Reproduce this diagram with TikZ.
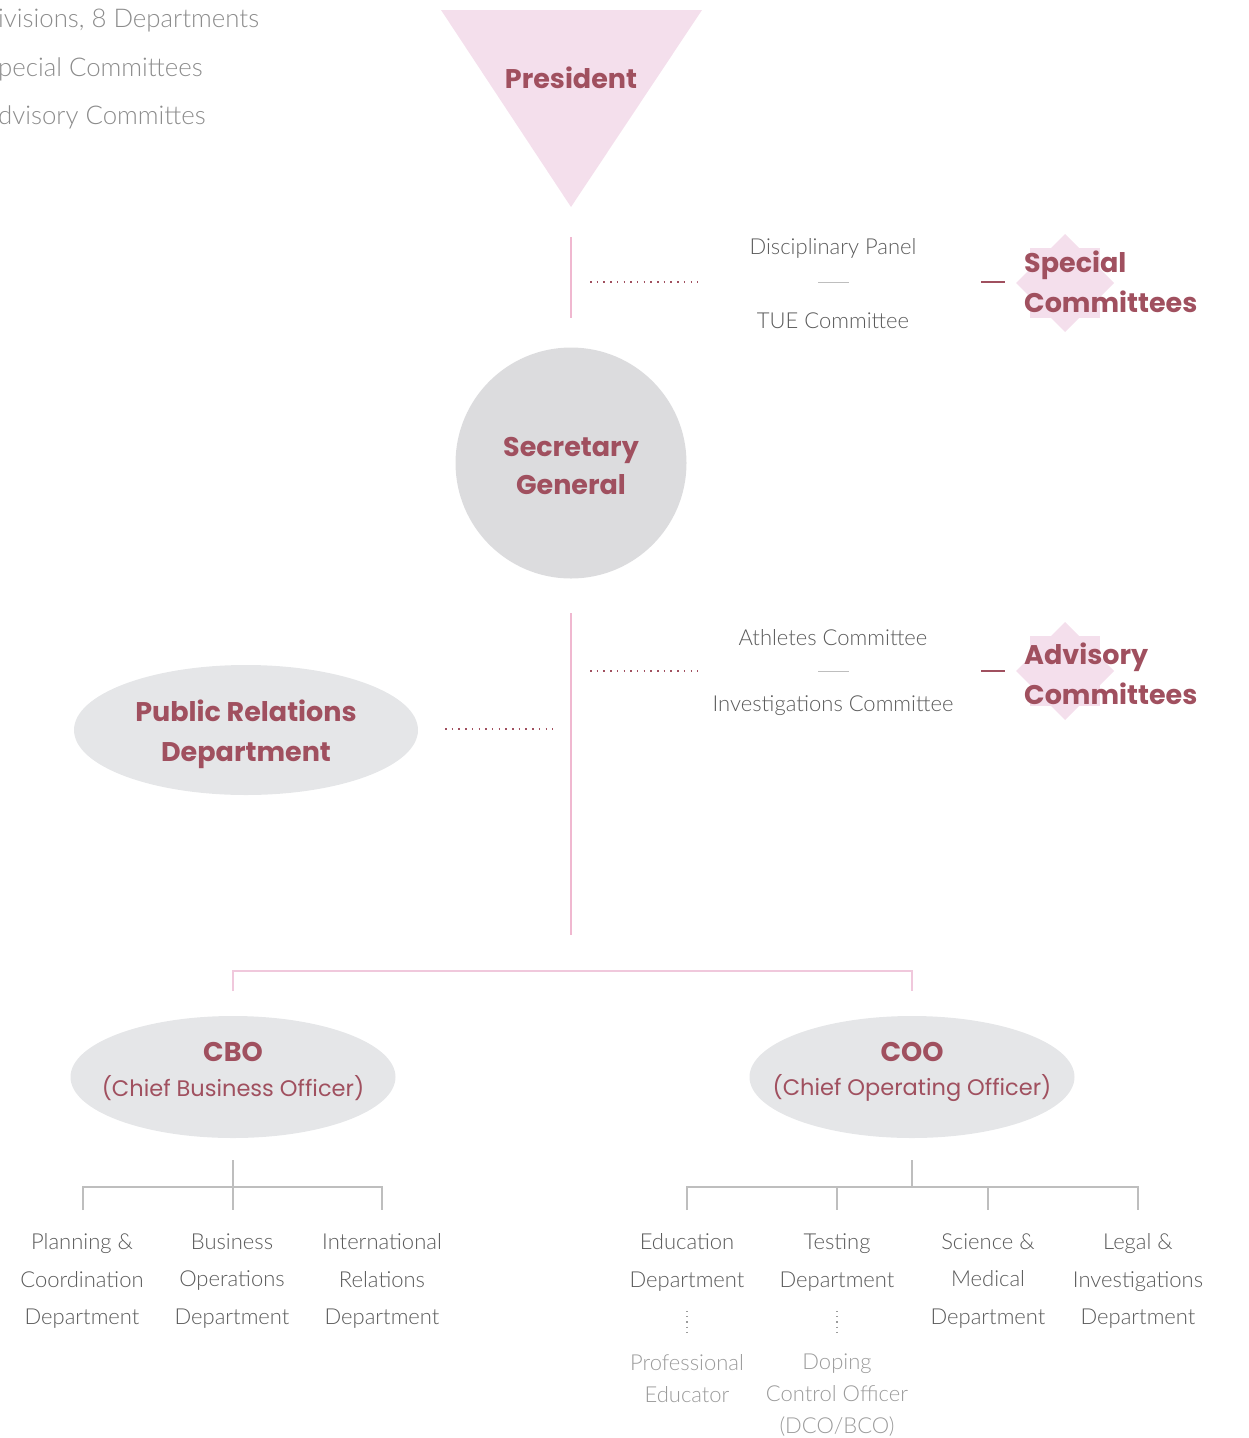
\documentclass[tikz,border=0pt]{standalone}
\usepackage{fontspec}
\setmainfont{Poppins}
\newfontfamily\lt{Lato Light}
\usetikzlibrary{shapes.geometric}
\definecolor{maroon}{RGB}{160,80,95}
\definecolor{pinkfill}{RGB}{244,223,236}
\definecolor{pinkline}{RGB}{240,184,208}
\definecolor{pinkbr}{RGB}{240,200,220}
\definecolor{greyfill}{RGB}{220,220,222}
\definecolor{greyfill2}{RGB}{229,230,232}
\definecolor{txtgrey}{RGB}{90,90,90}
\definecolor{txtlight}{RGB}{155,155,155}
\definecolor{toptxtc}{RGB}{140,140,140}
\definecolor{treegrey}{RGB}{190,190,190}
\tikzset{
  head/.style={font=\fontsize{27}{38}\selectfont\bfseries, text=maroon, align=center, inner sep=0pt},
  headpr/.style={font=\fontsize{27}{40}\selectfont\bfseries, text=maroon, align=center, inner sep=0pt},
  headl/.style={font=\fontsize{27}{40}\selectfont\bfseries, text=maroon, align=left, inner sep=0pt, anchor=west},
  sub/.style={font=\fontsize{22.5}{30}\selectfont, text=maroon, inner sep=0pt},
  lbl/.style={font=\lt\fontsize{22}{37.5}\selectfont, text=txtgrey, align=center, inner sep=0pt},
  lbll/.style={font=\lt\fontsize{22}{32}\selectfont, text=txtlight, align=center, inner sep=0pt, anchor=north},
  toptxt/.style={font=\lt\fontsize{25.8}{30}\selectfont, text=toptxtc, anchor=west, inner sep=0pt},
  pinkv/.style={draw=pinkline, line width=2pt},
  dots/.style={draw=maroon, line width=1.5pt, dash pattern=on 1.5pt off 5.2pt},
  gdash/.style={draw=treegrey, line width=1pt},
  mdash/.style={draw=maroon, line width=2pt},
  tree/.style={draw=treegrey, line width=1.5pt},
  vdots/.style={draw=txtlight, line width=1.2pt, dash pattern=on 1.2pt off 4pt},
  oval/.style={ellipse, fill=greyfill2, inner sep=0pt},
}
\begin{document}
\begin{tikzpicture}[x=1pt,y=-1pt]
\useasboundingbox (0,0) rectangle (1248,1438);
% top-left legend
\node[toptxt] (l1) at (-2,21) {ivisions, 8 Departments};
\node[toptxt] (l2) at (-2,69) {pecial Committees};
\node[toptxt] (l3) at (-2,117) {dvisory Committes};
% President
\fill[pinkfill] (441,10) -- (702,10) -- (571,207) -- cycle;
\node[head] (pres) at (571,78) {President};
\coordinate (p1) at (571,237);
\coordinate (p2) at (571,318);
\draw[pinkv] (p1) -- (p2);
% Special committees
\coordinate (d1a) at (590,282);
\coordinate (d1b) at (698,282);
\draw[dots] (d1a) -- (d1b);
\node[lbl] (disc) at (833,248) {Disciplinary Panel};
\node[lbl] (tue) at (833,321) {TUE Committee};
\coordinate (g1a) at (818,282);
\coordinate (g1b) at (849,282);
\draw[gdash] (g1a) -- (g1b);
\coordinate (m1a) at (981,282);
\coordinate (m1b) at (1005,282);
\draw[mdash] (m1a) -- (m1b);
\fill[pinkfill] (1030,248) rectangle (1100,318);
\fill[pinkfill] (1065,234) -- (1114,283) -- (1065,332) -- (1016,283) -- cycle;
\node[headl] (spec) at (1024,282) {Special\\Committees};
% Secretary General
\node[circle, fill=greyfill, minimum size=231pt, inner sep=0pt] (sg) at (571,463) {};
\node[head] (sgt) at (571,466) {Secretary\\General};
\coordinate (p3) at (571,613);
\coordinate (p4) at (571,935);
\draw[pinkv] (p3) -- (p4);
% Advisory committees
\coordinate (d2a) at (590,671);
\coordinate (d2b) at (698,671);
\draw[dots] (d2a) -- (d2b);
\node[lbl] (ath) at (833,638) {Athletes Committee};
\node[lbl] (inv) at (833,706) {Investigations Committee};
\coordinate (g2a) at (818,671);
\coordinate (g2b) at (849,671);
\draw[gdash] (g2a) -- (g2b);
\coordinate (m2a) at (981,671);
\coordinate (m2b) at (1005,671);
\draw[mdash] (m2a) -- (m2b);
\fill[pinkfill] (1030,636) rectangle (1100,706);
\fill[pinkfill] (1065,622) -- (1114,671) -- (1065,720) -- (1016,671) -- cycle;
\node[headl] (adv) at (1024,674) {Advisory\\Committees};
% Public relations
\node[oval, minimum width=344pt, minimum height=130pt] (pr) at (246,730) {};
\node[headpr] (prt) at (246,734) {Public Relations\\Department};
\coordinate (d3a) at (445,729);
\coordinate (d3b) at (553,729);
\draw[dots] (d3a) -- (d3b);
% bracket
\coordinate (b1) at (233,991);
\coordinate (b2) at (233,971);
\coordinate (b3) at (912,971);
\coordinate (b4) at (912,991);
\draw[draw=pinkbr, line width=2.5pt] (b1) -- (b2) -- (b3) -- (b4);
% CBO / COO
\node[oval, minimum width=325pt, minimum height=122pt] (cbo) at (233,1077) {};
\node[head] (cbot) at (233,1052) {CBO};
\node[sub] (cbos) at (233,1088) {(Chief Business Officer)};
\node[oval, minimum width=325pt, minimum height=122pt] (coo) at (912,1077) {};
\node[head] (coot) at (912,1052) {COO};
\node[sub] (coos) at (912,1088) {(Chief Operating Officer)};
% CBO tree
\coordinate (t0) at (233,1160);
\coordinate (t1) at (233,1210);
\coordinate (ta) at (83,1187);
\coordinate (tb) at (382,1187);
\draw[tree] (t0) -- (t1);
\draw[tree] (83,1210) -- (ta) -- (tb) -- (382,1210);
\node[lbl] (plan) at (82,1281) {Planning \&\\Coordination\\Department};
\node[lbl] (bus) at (232,1281) {Business\\Operations\\Department};
\node[lbl] (intl) at (382,1281) {International\\Relations\\Department};
% COO tree
\coordinate (u0) at (912,1160);
\coordinate (u1) at (912,1187);
\draw[tree] (u0) -- (u1);
\draw[tree] (687,1210) -- (687,1187) -- (1138,1187) -- (1138,1210);
\draw[tree] (837,1187) -- (837,1210);
\draw[tree] (988,1187) -- (988,1210);
\node[lbl] (edu) at (687,1262.5) {Education\\Department};
\node[lbl] (test) at (837,1262.5) {Testing\\Department};
\node[lbl] (sci) at (988,1281) {Science \&\\Medical\\Department};
\node[lbl] (leg) at (1138,1281) {Legal \&\\Investigations\\Department};
\node[lbll] (prof) at (687,1354) {Professional\\Educator};
\node[lbll] (dop) at (837,1354) {Doping\\Control Officer\\(DCO/BCO)};
\draw[vdots] (687,1311) -- (687,1332);
\draw[vdots] (837,1311) -- (837,1332);
\end{tikzpicture}
\end{document}
